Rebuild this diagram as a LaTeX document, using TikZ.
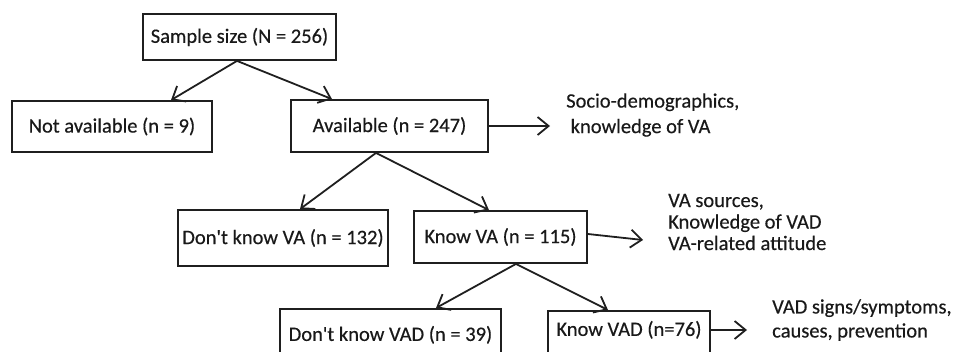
\documentclass[tikz,border=0pt]{standalone}
\usepackage{fontspec}
\setmainfont{Carlito}[FakeBold=0.4]
\usetikzlibrary{arrows.meta}
\tikzset{
  box/.style={draw=black!88, line width=1.8pt, inner sep=0pt, align=center,
    text=black!90, font=\fontsize{20.5}{24}\selectfont},
  side/.style={inner sep=0pt, anchor=west, align=left, text=black!90},
  arr/.style={draw=black!88, line width=1.8pt, -{Straight Barb[length=11pt,width=18pt,line width=1.8pt]}}
}
\begin{document}
\begin{tikzpicture}[x=1pt,y=-1pt]
\useasboundingbox (0,0) rectangle (957,351);
\clip (0,0) rectangle (957,351);
% boxes
\node[box, minimum width=193pt, minimum height=46pt] (s) at (239.5,37) {Sample size (N = 256)};
\node[box, minimum width=200pt, minimum height=51pt] (na) at (112,126.5) {Not available (n = 9)};
\node[box, minimum width=197pt, minimum height=52pt] (av) at (389.5,126) {Available (n = 247)};
\node[box, minimum width=210pt, minimum height=56pt] (dkva) at (283,238) {Don\textquotesingle t know VA (n = 132)};
\node[box, minimum width=173pt, minimum height=52pt] (kva) at (500.5,237) {Know VA (n = 115)};
\node[box, minimum width=221pt, text height=32pt, text depth=20pt, anchor=north] (dkvad) at (390.5,308) {Don\textquotesingle t know VAD (n = 39)};
\node[box, minimum width=162pt, text height=25pt, text depth=20pt, anchor=north] (kvad) at (629,310) {Know VAD (n=76)};
% side texts
\node[side, font=\fontsize{20.5}{25.5}\selectfont] (t1) at (566,115) {Socio-demographics,\\\hspace*{4.5pt}knowledge of VA};
\node[side, font=\fontsize{20.5}{21.5}\selectfont] (t2) at (668,222) {VA sources,\\Knowledge of VAD\\VA-related attitude};
\node[side, font=\fontsize{20.5}{24}\selectfont] (t3) at (772,320) {VAD signs/symptoms,\\causes, prevention};
\coordinate (e1) at (550,126);
\coordinate (e2) at (643,240);
\coordinate (e3) at (747,330);
% connectors
\draw[arr] ([xshift=-2.5pt]s.south) -- ([xshift=59pt]na.north);
\draw[arr] ([xshift=-2.5pt]s.south) -- ([xshift=-57.5pt]av.north);
\draw[arr] ([xshift=-13.5pt]av.south) -- ([xshift=17pt]dkva.north);
\draw[arr] ([xshift=-13.5pt]av.south) -- ([xshift=-11.5pt]kva.north);
\draw[arr] ([xshift=15.5pt]kva.south) -- ([xshift=45.5pt]dkvad.north);
\draw[arr] ([xshift=15.5pt]kva.south) -- ([xshift=-21pt]kvad.north);
\draw[arr] (av.east) -- (e1);
\draw[arr] ([yshift=3pt]kva.east) -- (e2);
\draw[arr] (kvad.east |- e3) -- (e3);
\end{tikzpicture}
\end{document}
